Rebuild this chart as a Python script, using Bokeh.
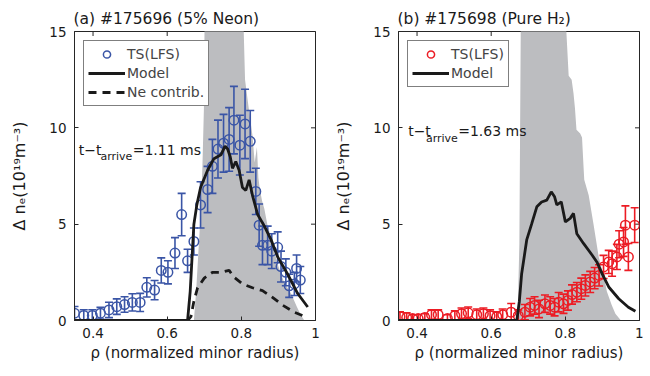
import numpy as np
from bokeh.plotting import figure
from bokeh.models import (ColumnDataSource, Range1d, FixedTicker, Label,
                          Legend, LegendItem, Title)
from bokeh.layouts import row
from bokeh.embed import file_html
from bokeh.resources import INLINE

FONT = "DejaVu Sans"
BLUE = "#3a55a6"
RED = "#ec1c24"
GREY = "#bcbdc0"
DARK = "#1a1a1a"
AX = "#262626"

# ---------------- data: panel (a) #175696 (5% Neon) ----------------
ts_rho_a = [0.350, 0.375, 0.398, 0.420, 0.443, 0.464, 0.485, 0.506, 0.527, 0.545,
            0.566, 0.584, 0.602, 0.621, 0.639, 0.655, 0.672, 0.690, 0.709, 0.722,
            0.737, 0.752, 0.767, 0.780, 0.796, 0.810, 0.824, 0.839, 0.848, 0.857,
            0.871, 0.882, 0.898, 0.907, 0.920, 0.929, 0.943, 0.949, 0.959]
ts_ne_a = [0.38, 0.26, 0.26, 0.38, 0.55, 0.72, 0.83, 0.94, 0.94, 1.72,
           1.58, 2.6, 2.5, 3.5, 5.5, 3.1, 4.1, 6.0, 6.8, 8.0,
           8.9, 9.2, 9.4, 10.4, 9.1, 10.2, 9.3, 6.7, 4.95, 3.9,
           3.9, 3.6, 3.8, 2.8, 2.5, 1.8, 1.9, 2.7, 2.1]
ts_err_a = [0.35, 0.3, 0.3, 0.3, 0.4, 0.4, 0.4, 0.45, 0.47, 0.5,
            0.5, 0.65, 0.6, 0.8, 1.1, 0.6, 0.7, 1.2, 1.2, 1.4,
            1.5, 1.5, 1.65, 1.75, 1.55, 1.8, 1.6, 1.2, 1.1, 1.0,
            1.0, 0.9, 0.8, 0.8, 0.7, 0.6, 0.6, 0.7, 0.7]

model_rho_a = [0.35, 0.655, 0.662, 0.668, 0.672, 0.680, 0.690, 0.709, 0.726, 0.745,
               0.756, 0.763, 0.770, 0.776, 0.785, 0.794, 0.803, 0.812, 0.821, 0.830,
               0.844, 0.862, 0.880, 0.898, 0.925, 0.952, 0.979]
model_ne_a = [0.0, 0.0, 1.5, 3.6, 5.0, 6.0, 6.9, 7.8, 8.4, 8.6,
              9.05, 8.9, 8.5, 7.9, 8.25, 7.8, 6.9, 6.75, 7.3, 6.5,
              5.5, 4.9, 4.2, 3.3, 2.4, 1.4, 0.7]

necon_rho_a = [0.35, 0.655, 0.664, 0.672, 0.682, 0.700, 0.722, 0.745, 0.767, 0.780,
               0.803, 0.830, 0.857, 0.884, 0.911, 0.943, 0.979]
necon_ne_a = [0.0, 0.0, 0.2, 1.0, 1.7, 2.2, 2.5, 2.5, 2.6, 2.25,
              1.9, 1.7, 1.55, 1.2, 0.8, 0.43, 0.15]

grey_rho_a = [0.672, 0.678, 0.684, 0.690, 0.695, 0.699, 0.701, 0.805, 0.810, 0.820,
              0.830, 0.836, 0.842, 0.846, 0.850, 0.856, 0.862, 0.870, 0.880, 0.890,
              0.900, 0.915, 0.934, 0.950, 0.960, 0.970]
grey_top_a = [0.0, 1.5, 3.5, 5.5, 8.0, 11.0, 16.0, 16.0, 12.5, 11.0,
              9.6, 8.2, 9.0, 7.4, 6.8, 6.2, 5.8, 5.0, 4.3, 3.5,
              2.8, 2.0, 1.4, 0.7, 0.3, 0.0]

# ---------------- data: panel (b) #175698 (Pure H2) ----------------
ts_rho_b = [0.354, 0.372, 0.388, 0.403, 0.421, 0.439, 0.457, 0.482, 0.502, 0.520,
            0.538, 0.561, 0.579, 0.597, 0.615, 0.631, 0.654, 0.673, 0.691, 0.705,
            0.717, 0.729, 0.745, 0.759, 0.771, 0.782, 0.795, 0.807, 0.818, 0.831,
            0.843, 0.854, 0.867, 0.879, 0.891, 0.903, 0.917, 0.926, 0.939, 0.945,
            0.957, 0.962, 0.970, 0.987]
ts_ne_b = [0.2, 0.15, 0.1, 0.1, 0.15, 0.3, 0.3, 0.1, 0.25, 0.35,
           0.4, 0.3, 0.35, 0.25, 0.2, 0.3, 0.43, 0.25, 0.43, 0.69,
           0.78, 0.6, 0.87, 0.78, 0.69, 0.95, 0.87, 1.04, 1.35, 1.47,
           1.65, 1.82, 2.0, 2.2, 2.34, 2.78, 3.04, 2.95, 3.3, 3.96,
           4.08, 4.95, 3.3, 4.95]
ts_err_b = [0.25, 0.25, 0.2, 0.2, 0.2, 0.25, 0.25, 0.2, 0.25, 0.3,
            0.3, 0.3, 0.3, 0.3, 0.25, 0.3, 0.45, 0.3, 0.4, 0.45,
            0.45, 0.45, 0.45, 0.45, 0.45, 0.5, 0.5, 0.5, 0.5, 0.5,
            0.55, 0.55, 0.55, 0.55, 0.55, 0.6, 0.6, 0.65, 0.65, 0.7,
            0.75, 1.0, 0.7, 0.9]

model_rho_b = [0.35, 0.669, 0.676, 0.682, 0.696, 0.709, 0.723, 0.736, 0.750, 0.762,
               0.771, 0.777, 0.789, 0.800, 0.813, 0.822, 0.831, 0.849, 0.872, 0.885,
               0.899, 0.917, 0.944, 0.970, 0.989]
model_ne_b = [0.0, 0.0, 1.0, 2.4, 4.2, 5.0, 5.9, 6.15, 6.25, 6.68,
              6.42, 6.0, 6.16, 5.12, 5.3, 5.56, 4.5, 4.0, 3.4, 3.04,
              2.43, 1.74, 1.13, 0.69, 0.48]

grey_rho_b = [0.671, 0.676, 0.680, 0.800, 0.809, 0.817, 0.822, 0.826, 0.830, 0.840,
              0.845, 0.849, 0.851, 0.863, 0.876, 0.890, 0.905, 0.912, 0.925, 0.935,
              0.950]
grey_top_b = [0.0, 4.0, 16.0, 16.0, 12.7, 12.5, 11.8, 11.0, 9.9, 9.7,
              9.5, 8.0, 7.3, 6.5, 5.0, 3.3, 2.2, 1.5, 0.8, 0.35,
              0.0]

x_ticks = [0.4, 0.6, 0.8, 1]
x_tick_labels = ["0.4", "0.6", "0.8", "1"]
y_ticks = [0, 5, 10, 15]
y_tick_labels = ["0", "5", "10", "15"]
X_RANGE = (0.35, 1.0)
Y_RANGE = (0, 15)
Y_LABEL = "Δ nₑ(10¹⁹m⁻³)"
X_LABEL = "ρ (normalized minor radius)"


def txt(p, x, y, s, size):
    p.add_layout(Label(x=x, y=y, text=s, text_font=FONT, text_font_size=f"{size}px",
                       text_color="#1a1a1a", text_align="left",
                       text_baseline="alphabetic"))


def style_axis(ax, ticks, labels):
    ax.ticker = FixedTicker(ticks=ticks)
    ax.major_label_overrides = {t: l for t, l in zip(ticks, labels)}
    ax.major_tick_in = 4
    ax.major_tick_out = 0
    ax.minor_tick_line_color = None
    ax.axis_line_color = AX
    ax.major_tick_line_color = AX
    ax.major_label_text_font = FONT
    ax.major_label_text_color = "#1a1a1a"
    ax.major_label_text_font_size = "13.5px"
    ax.axis_label_text_font = FONT
    ax.axis_label_text_font_size = "15px"
    ax.axis_label_text_font_style = "normal"
    ax.axis_label_text_color = "#1a1a1a"


def panel(title, ts_rho, ts_ne, ts_err, color, model_rho, model_ne,
          grey_rho, grey_top, t_text, t_y, border_left, border_right,
          necon=None):
    p = figure(frame_width=241, frame_height=289,
               x_range=Range1d(*X_RANGE), y_range=Range1d(*Y_RANGE),
               output_backend="svg", toolbar_location=None,
               min_border_left=border_left, min_border_right=border_right,
               min_border_top=31, min_border_bottom=48)
    p.title = Title(text=title, text_font=FONT, text_font_size="15.5px",
                    text_font_style="normal", text_color="#1a1a1a",
                    align="left", offset=-1, standoff=7)
    p.grid.visible = False
    p.outline_line_color = AX
    p.background_fill_color = "white"
    p.border_fill_color = "white"

    style_axis(p.xaxis[0], x_ticks, x_tick_labels)
    style_axis(p.yaxis[0], y_ticks, y_tick_labels)
    p.xaxis.major_label_standoff = 7
    p.yaxis.major_label_standoff = 8
    p.xaxis.axis_label = X_LABEL
    p.xaxis.axis_label_standoff = 3
    p.yaxis.axis_label = Y_LABEL
    p.yaxis.axis_label_text_font_size = "16px"
    p.yaxis.axis_label_standoff = 17

    # inward tick marks on the top and right edges of the box
    p.scatter(x=x_ticks, y=[Y_RANGE[1]] * len(x_ticks), marker="dash", angle=np.pi / 2,
              size=9, line_color=AX, line_width=1)
    p.scatter(x=[X_RANGE[1]] * len(y_ticks), y=y_ticks, marker="dash",
              size=9, line_color=AX, line_width=1)

    # shaded region
    gsrc = ColumnDataSource(dict(x=grey_rho, top=grey_top))
    p.varea(x="x", y1=0, y2="top", source=gsrc, fill_color=GREY, fill_alpha=1.0)

    # TS data with error bars
    ts_ne = np.array(ts_ne)
    ts_err = np.array(ts_err)
    src = ColumnDataSource(dict(x=ts_rho, y=ts_ne, lo=ts_ne - ts_err, hi=ts_ne + ts_err))
    p.segment(x0="x", y0="lo", x1="x", y1="hi", source=src, line_color=color, line_width=1.6)
    p.scatter(x="x", y="hi", source=src, marker="dash", size=8, line_color=color, line_width=1.6)
    p.scatter(x="x", y="lo", source=src, marker="dash", size=8, line_color=color, line_width=1.6)
    r_ts = p.scatter(x="x", y="y", source=src, marker="circle", size=9.5, fill_color=None,
                     line_color=color, line_width=1.5)
    r_bar = p.scatter(x=[], y=[], marker="dash", angle=np.pi / 2, size=10,
                      line_color=color, line_width=1.6)

    r_model = p.line(model_rho, model_ne, line_color=DARK, line_width=2.8)
    items = [LegendItem(label="TS(LFS)", renderers=[r_bar, r_ts]),
             LegendItem(label="Model", renderers=[r_model])]
    if necon is not None:
        r_ne = p.line(necon[0], necon[1], line_color=DARK, line_width=2.8, line_dash="8 6")
        items.append(LegendItem(label="Ne contrib.", renderers=[r_ne]))

    leg = Legend(items=items, location="top_left", margin=9, padding=4, spacing=1,
                 glyph_width=37, glyph_height=18, label_standoff=2,
                 label_text_font=FONT, label_text_font_size="14px",
                 label_height=18, border_line_color="black", border_line_width=1,
                 background_fill_alpha=1.0)
    p.add_layout(leg)

    # t - t_arrive annotation
    txt(p, t_text[0], t_y, "t−t", 14)
    txt(p, t_text[1], t_y - 0.36, "arrive", 11)
    txt(p, t_text[2], t_y, t_text[3], 14)
    return p


pa = panel("(a) #175696 (5% Neon)", ts_rho_a, ts_ne_a, ts_err_a, BLUE,
           model_rho_a, model_ne_a, grey_rho_a, grey_top_a,
           (0.3616, 0.420, 0.507, "=1.11 ms"), 8.85, 74, 16,
           necon=(necon_rho_a, necon_ne_a))
pb = panel("(b) #175698 (Pure H₂)", ts_rho_b, ts_ne_b, ts_err_b, RED,
           model_rho_b, model_ne_b, grey_rho_b, grey_top_b,
           (0.376, 0.424, 0.511, "=1.63 ms"), 9.81, 66, 4)

layout = row(pa, pb)
open("out.html", "w").write(file_html(layout, INLINE))
